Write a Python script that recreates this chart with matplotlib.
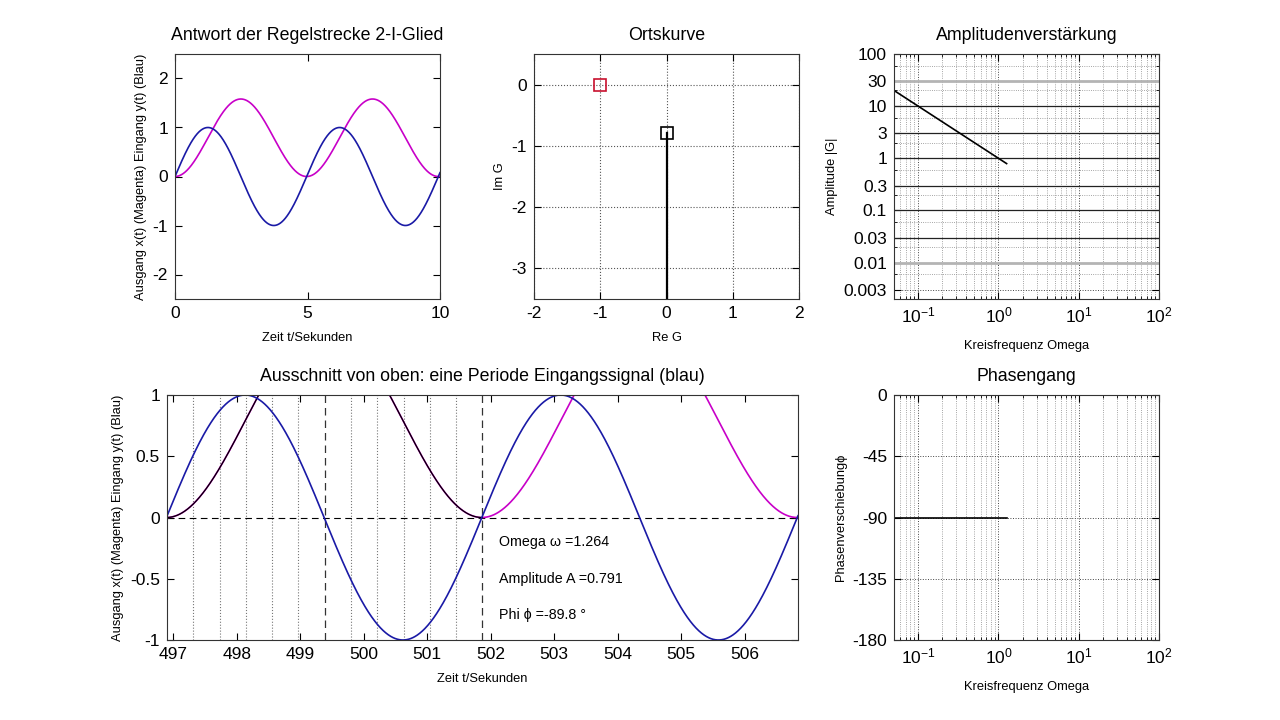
import numpy as np
import matplotlib
matplotlib.use('Agg')
import matplotlib.pyplot as plt
from matplotlib.ticker import FixedLocator, FixedFormatter, LogLocator, NullFormatter

plt.rcParams['font.family'] = ['Liberation Sans', 'DejaVu Sans']
plt.rcParams['mathtext.fontset'] = 'custom'
plt.rcParams['mathtext.rm'] = 'Liberation Sans'
plt.rcParams['mathtext.it'] = 'Liberation Sans'
plt.rcParams['axes.linewidth'] = 0.8
plt.rcParams['axes.unicode_minus'] = False

# ---------------- data ----------------
omega = 1.2645            # test frequency (shown as 1.264)
omega_shown = 1.264
amp_shown = 0.791
phi_shown = -89.8
t_top = (0.0, 10.0)
t_bottom = (496.9, 506.84)

orts_re = [0.0, 0.0]
orts_im = [-0.791, -20.0]
crit_re, crit_im = -1.0, 0.0

bode_omega = [0.05, 1.264]
bode_amp = [20.0, 0.791]
bode_phase = [-90.0, -90.0]

amp_ticks = [0.003, 0.01, 0.03, 0.1, 0.3, 1, 3, 10, 30, 100]
amp_ticklabels = ['0.003', '0.01', '0.03', '0.1', '0.3', '1', '3', '10', '30', '100']
amp_black_levels = [10, 3, 1, 0.3, 0.1, 0.03]
amp_gray_levels = [30, 0.01]
phase_ticks = [-180, -135, -90, -45, 0]

BLUE = '#1a1aa6'
MAG = '#c800c8'
TICKFS = 12.5
LABFS = 9.3
TITFS = 12.8
TPAD = 10
LPAD = 8
LOGPAD = 10

fig = plt.figure(figsize=(12.8, 7.2), dpi=100)
W, H = 1280, 720

def pos(l, r, t, b):
    return [l / W, 1 - b / H, (r - l) / W, (b - t) / H]

def style(ax):
    ax.tick_params(direction='in', top=True, right=True, labelsize=TICKFS,
                   length=5, width=0.8, pad=5)
    ax.tick_params(which='minor', direction='in', top=True, right=True, length=2.5)
    for s in ax.spines.values():
        s.set_color('#333333')

# ---------- 1: Antwort ----------
ax1 = fig.add_axes(pos(175, 440, 54, 299))
t1 = np.linspace(t_top[0], t_top[1], 1500)
y1 = np.sin(omega * t1)
x1 = (1 - np.cos(omega * t1)) / omega
ax1.plot(t1, x1, color=MAG, lw=1.2)
ax1.plot(t1, y1, color=BLUE, lw=1.2)
ax1.set_xlim(0, 10)
ax1.set_ylim(-2.5, 2.5)
ax1.set_xticks([0, 5, 10])
ax1.set_yticks([-2, -1, 0, 1, 2])
style(ax1)
ax1.set_title('Antwort der Regelstrecke 2-I-Glied', fontsize=TITFS, pad=TPAD)
ax1.set_xlabel('Zeit t/Sekunden', fontsize=LABFS, labelpad=LPAD)
ax1.set_ylabel('Ausgang x(t) (Magenta) Eingang y(t) (Blau)', fontsize=LABFS)

# ---------- 2: Ortskurve ----------
ax2 = fig.add_axes(pos(534, 799, 54, 299))
ax2.plot(orts_re, orts_im, color='black', lw=1.6)
ax2.plot([orts_re[0]], [orts_im[0]], marker='s', ms=8, mfc='none', mec='black', mew=1.2)
ax2.plot([crit_re], [crit_im], marker='s', ms=8, mfc='none', mec='#c8102e', mew=1.2)
ax2.set_xlim(-2, 2)
ax2.set_ylim(-3.5, 0.5)
ax2.set_xticks([-2, -1, 0, 1, 2])
ax2.set_yticks([-3, -2, -1, 0])
ax2.grid(True, linestyle=':', color='#555555', lw=0.8)
style(ax2)
ax2.set_title('Ortskurve', fontsize=TITFS, pad=TPAD)
ax2.set_xlabel('Re G', fontsize=LABFS, labelpad=LPAD)
ax2.set_ylabel('Im G', fontsize=LABFS)

# ---------- 3: Amplitude ----------
ax3 = fig.add_axes(pos(894, 1159, 54, 299))
ax3.set_xscale('log')
ax3.set_yscale('log')
ax3.set_xlim(0.05, 100)
ax3.set_ylim(0.002, 100)
ax3.xaxis.set_major_locator(LogLocator(base=10, numticks=10))
ax3.xaxis.set_minor_locator(LogLocator(base=10, subs=np.arange(2, 10), numticks=20))
ax3.xaxis.set_minor_formatter(NullFormatter())
ax3.yaxis.set_major_locator(FixedLocator(amp_ticks))
ax3.yaxis.set_major_formatter(FixedFormatter(amp_ticklabels))
ax3.yaxis.set_minor_locator(LogLocator(base=10, subs=(2.0, 6.0), numticks=20))
ax3.yaxis.set_minor_formatter(NullFormatter())
ax3.grid(True, which='major', linestyle=':', color='#444444', lw=0.7)
ax3.grid(True, which='minor', linestyle=':', color='#888888', lw=0.6)
for lv in amp_gray_levels:
    ax3.axhline(lv, color='#b4b4b4', lw=2.0)
for lv in amp_black_levels:
    ax3.axhline(lv, color='#222222', lw=0.9)
ax3.plot(bode_omega, bode_amp, color='black', lw=1.2)
style(ax3)
ax3.set_title('Amplitudenverstärkung', fontsize=TITFS, pad=TPAD)
ax3.set_xlabel('Kreisfrequenz Omega', fontsize=LABFS, labelpad=LOGPAD)
ax3.set_ylabel('Amplitude |G|', fontsize=LABFS)

# ---------- 4: Ausschnitt ----------
ax4 = fig.add_axes(pos(167, 798, 395, 640))
t4 = np.linspace(t_bottom[0], t_bottom[1], 2000)
y4 = np.sin(omega * t4)
x4 = (1 - np.cos(omega * t4)) / omega
period = 2 * np.pi / omega
t_start = t_bottom[0]
for k in list(range(1, 6)) + list(range(7, 12)):
    ax4.axvline(t_start + k * period / 12, color='#777777', ls=':', lw=0.8)
ax4.axhline(0, color='black', ls=(0, (6, 4)), lw=0.8)
ax4.axvline(t_start + period / 2, color='#333333', ls=(0, (6, 4)), lw=0.9)
ax4.axvline(t_start + period, color='#333333', ls=(0, (6, 4)), lw=0.9)
ax4.plot(t4, x4, color=MAG, lw=1.2)
m = t4 <= t_start + period
ax4.plot(t4[m], x4[m], color='black', lw=0.9)
ax4.plot(t4, y4, color=BLUE, lw=1.2)
ax4.set_xlim(t_bottom)
ax4.set_ylim(-1, 1)
ax4.set_xticks(np.arange(497, 507))
ax4.set_yticks([-1, -0.5, 0, 0.5, 1])
ax4.set_yticklabels(['-1', '-0.5', '0', '0.5', '1'])
style(ax4)
ax4.set_title('Ausschnitt von oben: eine Periode Eingangssignal (blau)', fontsize=TITFS, pad=TPAD)
ax4.set_xlabel('Zeit t/Sekunden', fontsize=LABFS, labelpad=LPAD)
ax4.set_ylabel('Ausgang x(t) (Magenta) Eingang y(t) (Blau)', fontsize=LABFS)
tx = 502.13
ax4.text(tx, -0.2, 'Omega \u03c9 =%.3f' % omega_shown, fontsize=10.3, va='center')
ax4.text(tx, -0.5, 'Amplitude A =%.3f' % amp_shown, fontsize=10.3, va='center')
ax4.text(tx, -0.8, 'Phi \u03d5 =%.1f \u00b0' % phi_shown, fontsize=10.3, va='center')

# ---------- 5: Phasengang ----------
ax5 = fig.add_axes(pos(894, 1159, 395, 640))
ax5.set_xscale('log')
ax5.set_xlim(0.05, 100)
ax5.set_ylim(-180, 0)
ax5.xaxis.set_major_locator(LogLocator(base=10, numticks=10))
ax5.xaxis.set_minor_locator(LogLocator(base=10, subs=np.arange(2, 10), numticks=20))
ax5.xaxis.set_minor_formatter(NullFormatter())
ax5.set_yticks(phase_ticks)
ax5.grid(True, which='major', linestyle=':', color='#444444', lw=0.7)
ax5.grid(True, which='minor', axis='x', linestyle=':', color='#888888', lw=0.6)
ax5.plot(bode_omega, bode_phase, color='black', lw=1.2)
style(ax5)
ax5.set_title('Phasengang', fontsize=TITFS, pad=TPAD)
ax5.set_xlabel('Kreisfrequenz Omega', fontsize=LABFS, labelpad=LOGPAD)
ax5.set_ylabel('Phasenverschiebung\u03d5', fontsize=LABFS)

fig.savefig('out.png', dpi=100)
